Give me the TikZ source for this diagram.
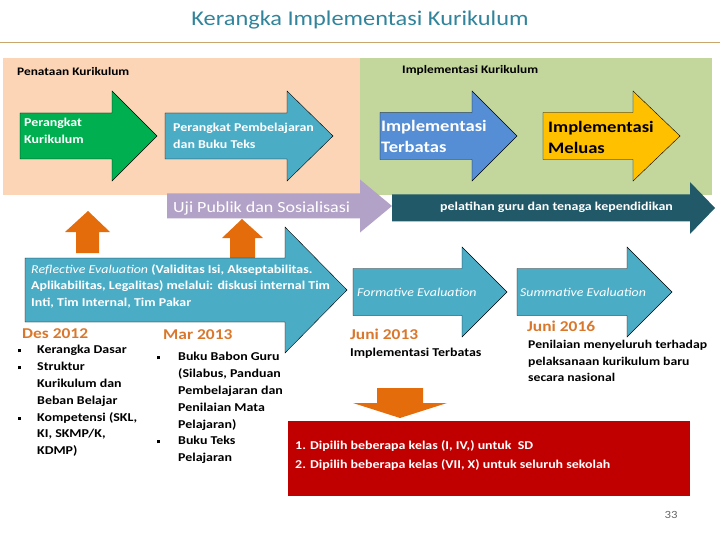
\documentclass[tikz,border=0pt]{standalone}
\usepackage{fontspec}
\setmainfont{Carlito}[FakeStretch=1.16]
\usetikzlibrary{positioning}

\definecolor{titleteal}{HTML}{31849B}
\definecolor{tanline}{HTML}{C9A66B}
\definecolor{peach}{HTML}{FBD5B5}
\definecolor{sage}{HTML}{C3D69B}
\definecolor{kgreen}{HTML}{00B050}
\definecolor{kaqua}{HTML}{4BACC6}
\definecolor{kblue}{HTML}{558ED5}
\definecolor{kyellow}{HTML}{FFC000}
\definecolor{kpurple}{HTML}{B3A2C7}
\definecolor{kdark}{HTML}{215968}
\definecolor{korange}{HTML}{E46C0A}
\definecolor{kdate}{HTML}{D9782D}
\definecolor{kred}{HTML}{C00000}

% block arrow: style, x start, x head, x tip, y middle, body half, head half
\newcommand{\blockarrow}[7]{%
  \path[#1] (#2,#5-#6) -- (#3,#5-#6) -- (#3,#5-#7) -- (#4,#5)
    -- (#3,#5+#7) -- (#3,#5+#6) -- (#2,#5+#6) -- cycle;}
\newcommand{\sqbul}{\rule[1.5pt]{3pt}{3pt}}

\begin{document}
\begin{tikzpicture}[x=1pt, y=-1pt,
  outl/.style={draw=black, line width=0.4pt},
  txt/.style={inner sep=0pt, anchor=west, align=left, font=\fontsize{12}{16.5}\selectfont\bfseries},
  big/.style={inner sep=0pt, anchor=west, align=left, font=\fontsize{16}{21}\selectfont\bfseries},
  date/.style={inner sep=0pt, anchor=west, text=kdate, font=\fontsize{15}{18}\selectfont\bfseries},
  evl/.style={inner sep=0pt, anchor=west, text=white, font=\fontsize{12}{14}\selectfont\itshape},
  list/.style={inner sep=0pt, anchor=north west, font=\fontsize{12}{16.8}\selectfont\bfseries}
]
\useasboundingbox (0,0) rectangle (720,540);

% title
\node[font=\fontsize{21}{25}\selectfont, text=titleteal] (title) at (360,20) {Kerangka Implementasi Kurikulum};
\draw[tanline, line width=1pt] (0,43) -- (720,43);

% background panels
\fill[peach] (3,58) rectangle (360,195);
\fill[sage] (360,58) rectangle (712,195);
\node[txt, font=\fontsize{11.5}{14}\selectfont\bfseries] (penataan) at (17,72) {Penataan Kurikulum};
\node[txt, font=\fontsize{11.5}{14}\selectfont\bfseries] (implkur) at (402,70) {Implementasi Kurikulum};

% upper arrows
\blockarrow{fill=kgreen, outl}{20}{112}{157}{136}{23}{45}
\blockarrow{fill=kaqua, outl}{165}{287}{333}{136}{23}{45}
\blockarrow{fill=kblue, outl}{380}{472}{517}{136}{23.5}{45}
\blockarrow{fill=kyellow, outl}{543}{633}{680}{136}{23.5}{45}
\node[txt, text=white] (perkur) at (24,131) {Perangkat\\Kurikulum};
\node[txt, text=white] (perbel) at (173,136) {Perangkat Pembelajaran\\dan Buku Teks};
\node[big, text=white] (impter) at (381,136) {Implementasi\\Terbatas};
\node[big, text=black] (impmel) at (548,137) {Implementasi\\Meluas};

% band arrows
\blockarrow{fill=kpurple}{167}{360}{392}{206}{12.5}{26.5}
\blockarrow{fill=kdark}{392}{690}{715}{208}{13.5}{26}
\node[inner sep=0pt, anchor=west, text=white, font=\fontsize{15.5}{18}\selectfont] (uji) at (173,208) {Uji Publik dan Sosialisasi};
\node[txt, text=white] (pelatihan) at (440,207) {pelatihan guru dan tenaga kependidikan};

% orange pointers
\fill[korange] (76,253) -- (76,232) -- (65,232) -- (88,211) -- (110,232) -- (99,232) -- (99,253) -- cycle;
\fill[korange] (230,258) -- (230,238) -- (222,238) -- (242,219) -- (263,238) -- (255,238) -- (255,258) -- cycle;
\fill[korange] (377,388) -- (423,388) -- (423,403) -- (447,403) -- (400,418) -- (353,403) -- (377,403) -- cycle;

% evaluation arrows
\blockarrow{fill=kaqua, outl}{25}{285}{347}{290}{32}{63}
\blockarrow{fill=kaqua, outl}{353}{462}{507}{292}{23.5}{45}
\blockarrow{fill=kaqua, outl}{517}{627}{672}{292}{23.5}{45}
\node[txt, text=white] (reflect) at (31,286) {{\mdseries\itshape Reflective Evaluation} (Validitas Isi, Akseptabilitas.\\Aplikabilitas, Legalitas) melalui: diskusi internal Tim\\Inti, Tim Internal, Tim Pakar};
\node[evl] (formative) at (357,292) {Formative Evaluation};
\node[evl] (summative) at (520,292) {Summative Evaluation};

% dates and notes
\node[date] (des) at (22,334) {Des 2012};
\node[date] (mar) at (163,335) {Mar 2013};
\node[date] (jun13) at (350,334) {Juni 2013};
\node[date] (jun16) at (527,326) {Juni 2016};
\node[txt] (terbatas) at (350,353) {Implementasi Terbatas};
\node[txt, font=\fontsize{11.8}{16.5}\selectfont\bfseries] (penilaian) at (528,361) {Penilaian menyeluruh terhadap\\pelaksanaan kurikulum baru\\secara nasional};

\node[list] (deslist) at (18,342) {\begin{tabular}{@{}p{19pt}@{}l@{}}
\sqbul & Kerangka Dasar\\
\sqbul & Struktur\\
 & Kurikulum dan\\
 & Beban Belajar\\
\sqbul & Kompetensi (SKL,\\
 & KI, SKMP/K,\\
 & KDMP)
\end{tabular}};
\node[list] (marlist) at (157,349) {\begin{tabular}{@{}p{21pt}@{}l@{}}
\sqbul & Buku Babon Guru\\
 & (Silabus, Panduan\\
 & Pembelajaran dan\\
 & Penilaian Mata\\
 & Pelajaran)\\
\sqbul & Buku Teks\\
 & Pelajaran
\end{tabular}};

% selected classes
\fill[kred] (288,421) rectangle (690,496);
\node[txt, text=white, font=\fontsize{12}{19}\selectfont\bfseries] (kelas) at (295,455.5) {1. Dipilih beberapa kelas (I, IV,) untuk~ SD\\2. Dipilih beberapa kelas (VII, X) untuk seluruh sekolah};

\node[inner sep=0pt, text=black!60, font=\fontsize{11}{13}\selectfont] (page) at (671,515) {33};
\end{tikzpicture}
\end{document}
